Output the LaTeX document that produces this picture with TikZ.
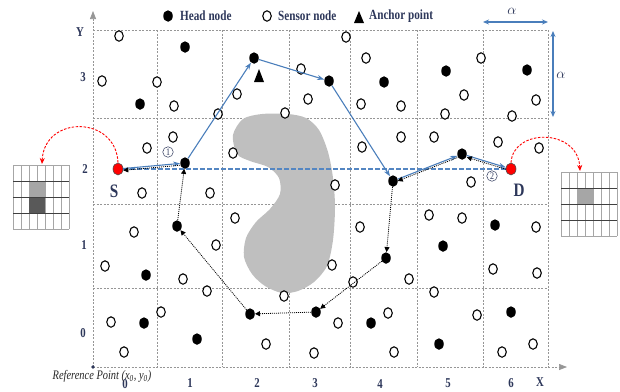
\documentclass[tikz,border=0pt]{standalone}
\usepackage{fontspec}
\setmainfont{Liberation Serif}
\newfontfamily\cnd{Liberation Serif}[FakeStretch=0.8]
\usetikzlibrary{shapes.geometric,arrows.meta}
\definecolor{navy}{RGB}{45,55,90}
\definecolor{pathblue}{RGB}{74,126,187}
\definecolor{dashblue}{RGB}{84,134,194}
\definecolor{gridgray}{RGB}{150,150,150}
\definecolor{blobgray}{RGB}{191,191,191}
\begin{document}
\begin{tikzpicture}[x=1pt,y=-1pt,
 head/.style={ellipse,fill=black,minimum width=9.5pt,minimum height=11.5pt,inner sep=0pt},
 sensor/.style={ellipse,draw=black,line width=1.1pt,fill=white,minimum width=8.5pt,minimum height=10.5pt,inner sep=0pt},
 srcnode/.style={ellipse,fill=red,draw=black!70,line width=0.6pt,minimum width=10pt,minimum height=12pt,inner sep=0pt},
 gridline/.style={gridgray,dash pattern=on 2pt off 1.5pt,line width=0.7pt},
 bluearrow/.style={pathblue,line width=1.1pt,-{Stealth[length=7pt,width=5pt]}},
 backarrow/.style={black,line width=0.8pt,dash pattern=on 1pt off 1pt,-{Triangle[length=5pt,width=5pt]}},
 lbl/.style={text=navy,font=\cnd\bfseries\fontsize{13.5}{13.5}\selectfont,inner sep=0pt},
 biglbl/.style={text=navy,font=\cnd\bfseries\fontsize{19}{19}\selectfont,inner sep=0pt},
 leg/.style={text=navy,font=\cnd\bfseries\fontsize{14}{14}\selectfont,inner sep=0pt,anchor=west},
 numc/.style={circle,draw=navy,line width=0.5pt,text=navy,inner sep=0.6pt,minimum size=10.5pt,font=\cnd\fontsize{10}{10}\selectfont},
 redcurve/.style={red,line width=0.9pt,dash pattern=on 2.5pt off 1.5pt,-{Stealth[length=6pt,width=5pt]}},
 alphaarrow/.style={pathblue,line width=1.1pt,{Stealth[length=6pt,width=5pt]}-{Stealth[length=6pt,width=5pt]}}
]
\useasboundingbox (0,0) rectangle (620,391);

% grid
\foreach \x in {157,222,289,350,417,483,548} \draw[gridline] (\x,30) -- (\x,367);
\foreach \y in {30,118,204,288} \draw[gridline] (93,\y) -- (548,\y);
% axes
\draw[gridline,-{Triangle[length=8pt,width=6pt]}] (93,367) -- (93,11);
\draw[gridline,-{Triangle[length=8pt,width=6pt]}] (93,367) -- (567,367);
\fill[navy] (93,367) circle (1.8);

% obstacle
\fill[blobgray] plot[smooth cycle] coordinates {(233,135) (243,119) (262,114) (288,114) (306,118) (319,130) (328,152) (333,178) (335,207) (333,240) (327,266) (314,282) (298,291) (282,293) (265,286) (252,274) (244,257) (246,238) (256,222) (270,209) (280,194) (279,178) (268,167) (250,161) (237,154)};

% axis labels
\node[lbl] (ly) at (80,32) {Y};
\node[lbl] (ly3) at (83,77) {3};
\node[lbl] (ly2) at (85,169) {2};
\node[lbl] (ly1) at (84,245) {1};
\node[lbl] (ly0) at (83,333) {0};
\node[lbl] (lx0) at (125,384) {0};
\node[lbl] (lx1) at (190,383) {1};
\node[lbl] (lx2) at (257,383) {2};
\node[lbl] (lx3) at (315,383) {3};
\node[lbl] (lx4) at (380,384) {4};
\node[lbl] (lx5) at (448,383) {5};
\node[lbl] (lx6) at (511,383) {6};
\node[lbl] (lxx) at (540,382) {X};
\node[inner sep=0pt,font=\cnd\itshape\fontsize{13}{13}\selectfont,text=black!85] (ref) at (102,376) {Reference Point (x\textsubscript{0}, y\textsubscript{0})};

% legend
\node[head] (lgh) at (168,16) {};
\node[leg] (lght) at (180,16) {Head node};
\node[sensor] (lgs) at (267,16) {};
\node[leg] (lgst) at (278,16) {Sensor node};
\fill[black] (359,11) -- (364,23) -- (354,23) -- cycle;
\node[leg] (lgat) at (369,16) {Anchor point};

% alpha
\coordinate (ah1) at (483,22); \coordinate (ah2) at (548,22);
\draw[alphaarrow] (ah1) -- (ah2);
\coordinate (av1) at (553,31); \coordinate (av2) at (553,117);
\draw[alphaarrow] (av1) -- (av2);
\node[text=navy,inner sep=0pt,font=\fontsize{14}{14}\selectfont] (al1) at (512,11) {$\alpha$};
\node[text=navy,inner sep=0pt,font=\fontsize{14}{14}\selectfont] (al2) at (561,75) {$\alpha$};

% sensor nodes
\foreach \p [count=\i] in {(119,36),(102,81),(157,82),(174,106),(237,94),(218,114),(285,113),(173,137),(147,148),(233,153),(142,193),(210,193),(301,69),(308,99),(346,37),(366,58),(361,104),(401,106),(481,58),(464,95),(445,114),(536,100),(512,116),(401,137),(434,137),(498,142),(362,147),(539,148),(471,182),(335,185),(360,227),(429,215),(462,218),(536,227),(332,265),(353,282),(409,279),(493,269),(537,273),(434,292),(338,323),(388,313),(477,315),(314,353),(394,352),(502,352),(533,344),(134,232),(216,245),(235,218),(105,266),(183,279),(207,291),(284,296),(161,312),(111,322),(266,344),(124,352)}
  \node[sensor] (s\i) at \p {};

% head nodes (not on path)
\foreach \p [count=\i] in {(185,47),(140,104),(384,82),(446,71),(527,70),(495,225),(443,246),(146,275),(144,323),(197,339),(371,323),(511,312),(439,344)}
  \node[head] (h\i) at \p {};

% path nodes
\node[head] (A) at (254,58) {};
\fill[black] (259,69) -- (264,82) -- (254,82) -- cycle;
\node[head] (B) at (185,163) {};
\node[head] (K) at (329,81) {};
\node[head] (C) at (393,181) {};
\node[head] (E) at (462,154) {};
\node[head] (F) at (386,258) {};
\node[head] (I) at (316,312) {};
\node[head] (H) at (250,314) {};
\node[head] (G) at (177,226) {};
\node[srcnode] (S) at (118,169) {};
\node[srcnode] (D) at (511,169) {};
\node[biglbl] (Sl) at (114,191) {S};
\node[biglbl] (Dl) at (519,190) {D};
\node[numc] (n1) at (168,152) {1};
\node[numc] (n2) at (492,176) {2};

% straight dashed line S-D
\draw[dashblue,line width=1.2pt,dash pattern=on 4.5pt off 2.5pt] (S) -- (D);

% forward path
\draw[bluearrow] (S) -- (B);
\draw[bluearrow] (B) -- (A);
\draw[bluearrow] (A) -- (K);
\draw[bluearrow] (K) -- (C);
\draw[bluearrow] (C) -- (E);
\draw[bluearrow] (E) -- (D);

% return path
\draw[backarrow,transform canvas={yshift=-1.8pt}] (D) -- (E);
\draw[backarrow,transform canvas={yshift=-1.8pt}] (E) -- (C);
\draw[backarrow] (C) -- (F);
\draw[backarrow] (F) -- (I);
\draw[backarrow] (I) -- (H);
\draw[backarrow] (H) -- (G);
\draw[backarrow] (G) -- (B);
\draw[backarrow,transform canvas={yshift=-1.8pt}] (B) -- (S);

% left grid
\foreach \x in {13,21,...,69} \draw[black!35,line width=0.6pt] (\x,165) -- (\x,229);
\fill[black!35] (29,181) rectangle (45,197);
\fill[black!65] (29,197) rectangle (45,213);
\draw[black!35,line width=0.6pt] (13,165) -- (69,165) (13,229) -- (69,229);
\foreach \y in {181,197,213} \draw[black!75,line width=0.8pt] (13,\y) -- (69,\y);
\coordinate (lgT) at (42,164);

% right grid
\foreach \x in {561,569,...,617} \draw[black!35,line width=0.6pt] (\x,172) -- (\x,236);
\fill[black!35] (577,188) rectangle (593,204);
\draw[black!35,line width=0.6pt] (561,172) -- (617,172) (561,236) -- (617,236);
\foreach \y in {188,204,220} \draw[black!75,line width=0.8pt] (561,\y) -- (617,\y);
\coordinate (rgT) at (580,171);

% red curves
\draw[redcurve] (S.north) .. controls (116,115) and (44,115) .. (lgT);
\draw[redcurve] (D.north) .. controls (513,128) and (578,128) .. (rgT);
\end{tikzpicture}
\end{document}
